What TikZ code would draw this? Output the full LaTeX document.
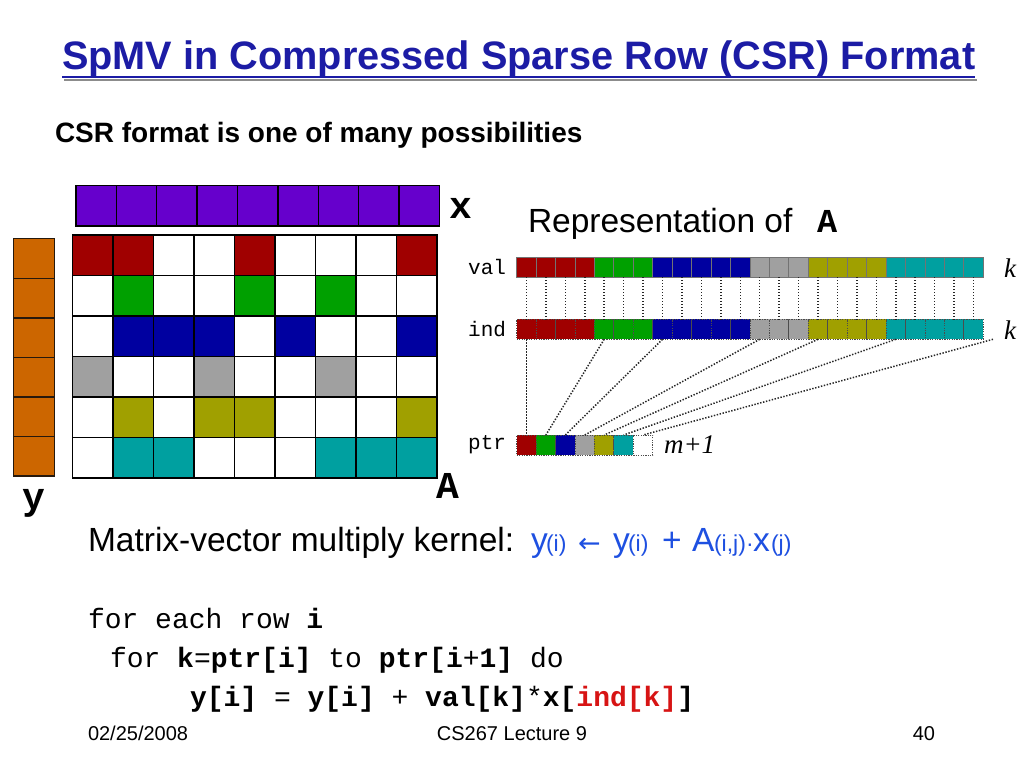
\documentclass[tikz,border=0pt]{standalone}
\usepackage{fontspec}
\setmainfont{Liberation Sans}
\newfontfamily\cour{Liberation Mono}
\newfontfamily\tms{Liberation Serif}
\newfontfamily\djv{DejaVu Sans}
\definecolor{cred}{RGB}{160,0,0}
\definecolor{cgreen}{RGB}{0,160,0}
\definecolor{cblue}{RGB}{0,0,160}
\definecolor{cgray}{RGB}{160,160,160}
\definecolor{colive}{RGB}{160,160,0}
\definecolor{cteal}{RGB}{0,160,160}
\definecolor{cpurple}{RGB}{102,0,204}
\definecolor{corange}{RGB}{204,102,0}
\definecolor{titleblue}{RGB}{28,28,165}
\definecolor{kblue}{RGB}{30,80,225}
\definecolor{codered}{RGB}{215,20,20}
\newcommand{\fs}[1]{\fontsize{#1}{#1}\selectfont}
\begin{document}
\begin{tikzpicture}[x=1pt,y=-1pt,
  mcell/.style={draw=black,line width=1.4pt,minimum width=40.5pt,minimum height=40.5pt,inner sep=0pt,outer sep=0pt},
  xcell/.style={draw=black,line width=1.4pt,fill=cpurple,minimum width=40.37pt,minimum height=40.3pt,inner sep=0pt,outer sep=0pt},
  ycell/.style={draw=black!80!brown,line width=1.4pt,fill=corange,minimum width=41pt,minimum height=39.55pt,inner sep=0pt,outer sep=0pt},
  vcell/.style={draw=black!55,line width=0.9pt,minimum width=19.44pt,minimum height=20pt,inner sep=0pt,outer sep=0pt},
  icell/.style={draw=black!70,line width=0.9pt,dash pattern=on 1.2pt off 1.2pt,minimum width=19.44pt,minimum height=20pt,inner sep=0pt,outer sep=0pt},
  dotline/.style={draw=black!85,line width=1.5pt,dash pattern=on 1.4pt off 1.6pt},
  txt/.style={inner sep=0pt,outer sep=0pt},
  biglbl/.style={txt,font=\cour\bfseries\fs{38}},
  smlbl/.style={txt,font=\cour\fs{21},anchor=east},
  itlbl/.style={txt,font=\tms\itshape\fs{27}},
  code/.style={txt,anchor=base west,font=\cour\fs{28}},
  foot/.style={txt,anchor=base,font=\fs{20}},
  kbig/.style={txt,anchor=base west,font=\fs{33.5},text=kblue},
  ksm/.style={txt,anchor=base west,font=\fs{23},text=kblue}
]
\useasboundingbox (0,0) rectangle (1024,768);
\fill[white] (0,0) rectangle (1024,768);

% title
\node[txt,anchor=base west,font=\bfseries\fs{39.7},text=titleblue] (title) at (62,70) {SpMV in Compressed Sparse Row (CSR) Format};
\draw[black!45,line width=2.6pt] ([xshift=2pt]title.base west |- 0,80) -- ([xshift=2pt]title.base east |- 0,80);
\draw[titleblue,line width=2.6pt] (title.base west |- 0,77) -- (title.base east |- 0,77);

\node[txt,anchor=base west,font=\bfseries\fs{28}] (sub) at (55,142) {CSR format is one of many possibilities};

% x vector
\foreach \c in {0,...,8}
  \node[xcell] (x-\c) at ({76+40.37*(\c+0.5)},{185.7+20.15}) {};
% y vector
\foreach \r in {0,...,5}
  \node[ycell] (y-\r) at ({13.3+20.5},{238.7+39.55*(\r+0.5)}) {};
% matrix A
\foreach \row [count=\r from 0] in {
  {cred,cred,white,white,cred,white,white,white,cred},
  {white,cgreen,white,white,cgreen,white,cgreen,white,white},
  {white,cblue,cblue,cblue,white,cblue,white,white,cblue},
  {cgray,white,white,cgray,white,white,cgray,white,white},
  {white,colive,white,colive,colive,white,white,white,colive},
  {white,cteal,cteal,white,white,white,cteal,cteal,cteal}}
  \foreach \col [count=\c from 0] in \row
    \node[mcell,fill=\col] (a-\r-\c) at ({72.3+40.5*(\c+0.5)},{235+40.5*(\r+0.5)}) {};

\node[biglbl] (xl) at (461,208) {x};
\node[biglbl] (al) at (448,486) {A};
\node[biglbl] (yl) at (34,503) {y};

% representation
\node[txt,anchor=base west,font=\fs{33.5}] (rep) at (528,232) {Representation of};
\node[txt,anchor=base west,font=\cour\bfseries\fs{33.5}] (repA) at (817,232) {A};

\foreach \col [count=\k from 0] in {cred,cred,cred,cred,cgreen,cgreen,cgreen,cblue,cblue,cblue,cblue,cblue,cgray,cgray,cgray,colive,colive,colive,colive,cteal,cteal,cteal,cteal,cteal}{
  \node[vcell,fill=\col] (val-\k) at ({516.7+19.44*(\k+0.5)},267) {};
  \node[icell,fill=\col] (ind-\k) at ({516.7+19.44*(\k+0.5)},329.3) {};
  \draw[dotline] (val-\k.south) -- (ind-\k.north);
}
\foreach \col [count=\i from 0] in {cred,cgreen,cblue,cgray,colive,cteal,white}
  \node[icell,fill=\col] (ptr-\i) at ({516.7+19.44*(\i+0.5)},445) {};

\coordinate (indend) at ({516.7+19.44*24.5},339.3);
\foreach \i/\k in {0/0,1/4,2/7,3/12,4/15,5/19}
  \draw[dotline] (ind-\k.south) -- (ptr-\i.north);
\draw[dotline] (indend) -- (ptr-6.north);

\node[smlbl] (vall) at (506,267) {val};
\node[smlbl] (indl) at (506,329.3) {ind};
\node[smlbl] (ptrl) at (506,445) {ptr};
\node[itlbl] (k1) at (1010,268) {k};
\node[itlbl] (k2) at (1010,330) {k};
\node[itlbl,anchor=west] (m1) at (664,445) {m+1};

% kernel
\node[txt,anchor=base west,font=\fs{33.5}] (kern) at (88,551) {Matrix-vector multiply kernel:};
\node[kbig] (ky1) at (531,551) {y};
\node[ksm] (ki1) at (546,551) {(i)};
\node[txt,anchor=base west,font=\djv\fs{27},text=kblue] (karr) at (578,552) {←};
\node[kbig] (ky2) at (613,551) {y};
\node[ksm] (ki2) at (628,551) {(i)};
\node[kbig] (kplus) at (662,551) {+};
\node[kbig] (kA) at (692,551) {A};
\node[ksm] (kij) at (714,551) {(i,j)};
\node[ksm] (kdot) at (746,551) {·};
\node[kbig] (kx) at (753,551) {x};
\node[ksm] (kj) at (771,551) {(j)};

% code
\node[code] (c1) at (88,628) {for each row \textbf{i}};
\node[code] (c2) at (110,667) {for \textbf{k}=\textbf{ptr[i]} to \textbf{ptr[i}+\textbf{1]} do};
\node[code] (c3) at (190,706) {\textbf{y[i]} = \textbf{y[i]} + \textbf{val[k]}*\textbf{x[}\textcolor{codered}{\textbf{ind[k]}}\textbf{]}};

% footer
\node[foot,anchor=base west] (f1) at (88,740) {02/25/2008};
\node[foot] (f2) at (512,740) {CS267 Lecture 9};
\node[foot,anchor=base east] (f3) at (935,740) {40};
\end{tikzpicture}
\end{document}
